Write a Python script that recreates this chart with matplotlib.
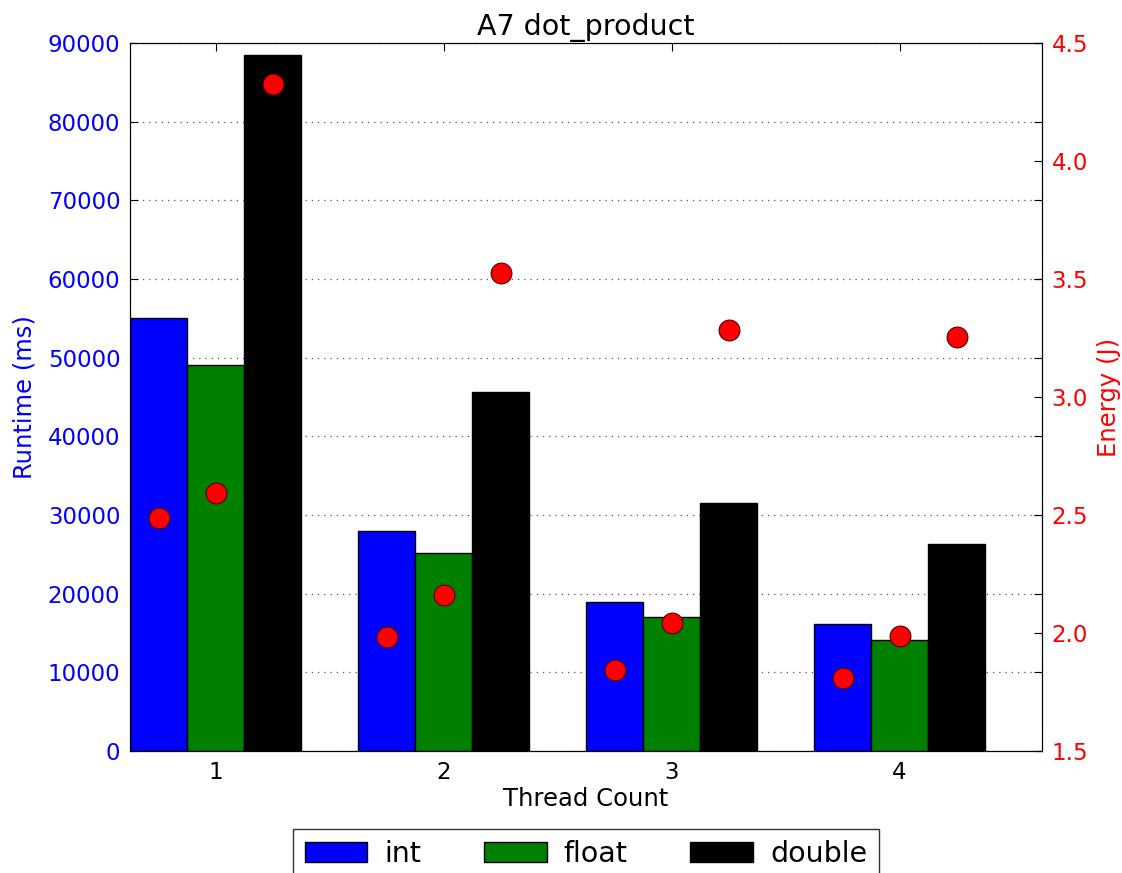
import matplotlib
matplotlib.use("Agg")
import matplotlib.pyplot as plt
import numpy as np

threads = [1, 2, 3, 4]
series = ["int", "float", "double"]
runtime_int = [55000, 27950, 18950, 16150]
runtime_float = [49100, 25150, 17050, 14100]
runtime_double = [88500, 45600, 31500, 26300]
energy_int = [2.487, 1.983, 1.843, 1.809]
energy_float = [2.593, 2.161, 2.042, 1.987]
energy_double = [4.326, 3.525, 3.284, 3.254]

colors = ["#0000ff", "#008000", "#000000"]
runtimes = [runtime_int, runtime_float, runtime_double]
energies = [energy_int, energy_float, energy_double]

fig = plt.figure(figsize=(11.22, 8.73), dpi=100)
ax1 = fig.add_axes([0.1159, 0.1397, 0.8128, 0.811])
ax2 = ax1.twinx()

x = np.array(threads, dtype=float)
w = 0.25
offsets = [-w, 0.0, w]
handles = []
for name, col, rt, off in zip(series, colors, runtimes, offsets):
    h = ax1.bar(x + off, rt, w, color=col, edgecolor="black", linewidth=1.0,
                label=name, zorder=2)
    handles.append(h)
for en, off in zip(energies, offsets):
    ax2.plot(x + off, en, linestyle="none", marker="o", markersize=15,
             markerfacecolor="red", markeredgecolor="#550000",
             markeredgewidth=0.8, zorder=3)

ax1.set_xlim(0.625, 4.625)
ax1.set_ylim(0, 90000)
ax2.set_ylim(1.5, 4.5)
ax1.set_xticks(threads)
ax1.set_xticklabels([str(t) for t in threads])
ax1.set_yticks(np.arange(0, 90001, 10000))
ax2.set_yticks([1.5, 2.0, 2.5, 3.0, 3.5, 4.0, 4.5])

ax1.yaxis.grid(True, linestyle=(0, (1, 4)), color="#555555", linewidth=0.9, zorder=0)
ax1.set_axisbelow(True)

ax1.tick_params(axis="y", labelcolor="#0000ff", color="black", labelsize=16.5,
                direction="in", length=6, right=True, pad=7)
ax1.tick_params(axis="x", labelsize=16.5, direction="in", length=6, top=True, pad=7)
ax2.tick_params(axis="y", labelcolor="#ff0000", color="black", labelsize=16.5,
                direction="in", length=6, pad=7)

ax1.set_ylabel("Runtime (ms)", color="#0000ff", fontsize=17.5, labelpad=8)
ax2.set_ylabel("Energy (J)", color="#ff0000", fontsize=17.5, labelpad=6)
ax1.set_xlabel("Thread Count", fontsize=17.5, labelpad=2)
ax1.set_title("A7 dot_product", fontsize=20.5, pad=6)

ax1.legend(handles=handles, labels=series, loc="upper center",
           bbox_to_anchor=(0.5, -0.11), ncol=3, fontsize=20.5,
           frameon=True, fancybox=False, edgecolor="black",
           handlelength=2.2, handleheight=0.7, columnspacing=2.2,
           handletextpad=0.6, borderaxespad=0)

fig.savefig("out.png", dpi=100)
